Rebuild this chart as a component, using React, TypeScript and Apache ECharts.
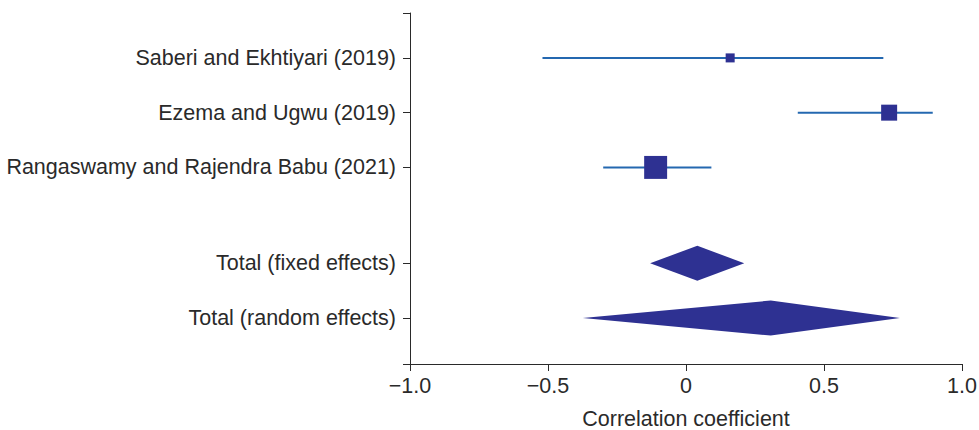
import React, { useEffect, useRef } from "react";
import * as echarts from "echarts";

// ---- data ----
const studies = [
  "Saberi and Ekhtiyari (2019)",
  "Ezema and Ugwu (2019)",
  "Rangaswamy and Rajendra Babu (2021)",
];
const studyEst = [0.16, 0.736, -0.11];
const studyLo = [-0.52, 0.405, -0.3];
const studyHi = [0.715, 0.894, 0.092];
const studyWeight = [9.4, 29.6, 61.0]; // % weight (marker area)

const totals = ["Total (fixed effects)", "Total (random effects)"];
const totalEst = [0.041, 0.307];
const totalLo = [-0.13, -0.374];
const totalHi = [0.211, 0.775];

const xTicks = [-1, -0.5, 0, 0.5, 1];
const xTitle = "Correlation coefficient";

// row slots on the y axis (studies, then gap, then totals)
const studyRows = [1, 2, 3];
const totalRows = [4.75, 5.75];
const yMin = 0.18;
const yMax = 6.59;

const FONT = "'Liberation Sans', Arial, sans-serif";
const TEXT = "#2a2a2a";
const AXIS = "#2a2a2a";
const CI_COLOR = "#2468b0";
const MARK = "#2e3192";
const FS = 21.5;

export default function App() {
  const ref = useRef<HTMLDivElement>(null);
  useEffect(() => {
    if (!ref.current) return;
    const chart = echarts.init(ref.current, undefined, { renderer: "svg" });
    const allRows = [...studyRows, ...totalRows];
    const allLabels = [...studies, ...totals];
    const labelOf = (v: number) => {
      const i = allRows.findIndex((r) => Math.abs(r - v) < 1e-6);
      return i >= 0 ? allLabels[i] : "";
    };
    const studyData = studies.map((_, i) => [
      studyEst[i],
      studyRows[i],
      studyLo[i],
      studyHi[i],
      studyWeight[i],
    ]);
    const totalData = totals.map((_, i) => [
      totalEst[i],
      totalRows[i],
      totalLo[i],
      totalHi[i],
    ]);
    chart.setOption({
      animation: false,
      grid: {
        left: 410,
        right: 17,
        top: 13,
        bottom: 66,
        containLabel: false,
        outerBoundsMode: "none",
      },
      xAxis: {
        type: "value",
        min: -1,
        max: 1,
        interval: 0.5,
        name: xTitle,
        nameLocation: "middle",
        nameGap: 44,
        nameTextStyle: { fontFamily: FONT, fontSize: FS, color: TEXT, lineHeight: 22 },
        splitLine: { show: false },
        axisLine: { show: true, onZero: false, lineStyle: { color: AXIS, width: 1 } },
        axisTick: { show: true, length: 7, lineStyle: { color: AXIS } },
        axisLabel: {
          fontFamily: FONT,
          fontSize: FS,
          color: TEXT,
          margin: 11,
          formatter: (v: number) => {
            const t = xTicks.find((x) => Math.abs(x - v) < 1e-9);
            if (t === undefined) return "";
            if (t === 0) return "0";
            const s = Math.abs(t).toFixed(1);
            return t < 0 ? "\u2212" + s : s;
          },
        },
      },
      yAxis: {
        type: "value",
        inverse: true,
        min: yMin,
        max: yMax,
        splitLine: { show: false },
        axisLine: { show: true, onZero: false, lineStyle: { color: AXIS, width: 1 } },
        axisTick: {
          show: true,
          length: 7,
          lineStyle: { color: AXIS },
          customValues: [yMin, ...allRows, yMax],
        },
        axisLabel: {
          fontFamily: FONT,
          fontSize: FS,
          color: TEXT,
          margin: 14,
          customValues: allRows,
          formatter: (v: number) => labelOf(v),
        },
      },
      series: [
        {
          type: "custom",
          encode: { x: 0, y: 1 },
          data: studyData,
          renderItem: (params: any, api: any) => {
            const est = api.value(0);
            const row = api.value(1);
            const lo = api.value(2);
            const hi = api.value(3);
            const w = api.value(4);
            const pLo = api.coord([lo, row]);
            const pHi = api.coord([hi, row]);
            const pE = api.coord([est, row]);
            const s = Math.sqrt(w) * 2.94;
            return {
              type: "group",
              children: [
                {
                  type: "line",
                  shape: { x1: pLo[0], y1: pLo[1], x2: pHi[0], y2: pHi[1] },
                  style: { stroke: CI_COLOR, lineWidth: 2 },
                },
                {
                  type: "rect",
                  shape: { x: pE[0] - s / 2, y: pE[1] - s / 2, width: s, height: s },
                  style: { fill: MARK },
                },
              ],
            };
          },
        },
        {
          type: "custom",
          encode: { x: 0, y: 1 },
          data: totalData,
          renderItem: (params: any, api: any) => {
            const est = api.value(0);
            const row = api.value(1);
            const lo = api.value(2);
            const hi = api.value(3);
            const pLo = api.coord([lo, row]);
            const pHi = api.coord([hi, row]);
            const pE = api.coord([est, row]);
            const h = 17.5;
            return {
              type: "polygon",
              shape: {
                points: [
                  [pLo[0], pLo[1]],
                  [pE[0], pE[1] - h],
                  [pHi[0], pHi[1]],
                  [pE[0], pE[1] + h],
                ],
              },
              style: { fill: MARK },
            };
          },
        },
      ],
    });
    return () => chart.dispose();
  }, []);
  return (
    <div
      ref={ref}
      style={{ position: "fixed", left: 0, top: 0, width: 979, height: 430, background: "#fff" }}
    />
  );
}
